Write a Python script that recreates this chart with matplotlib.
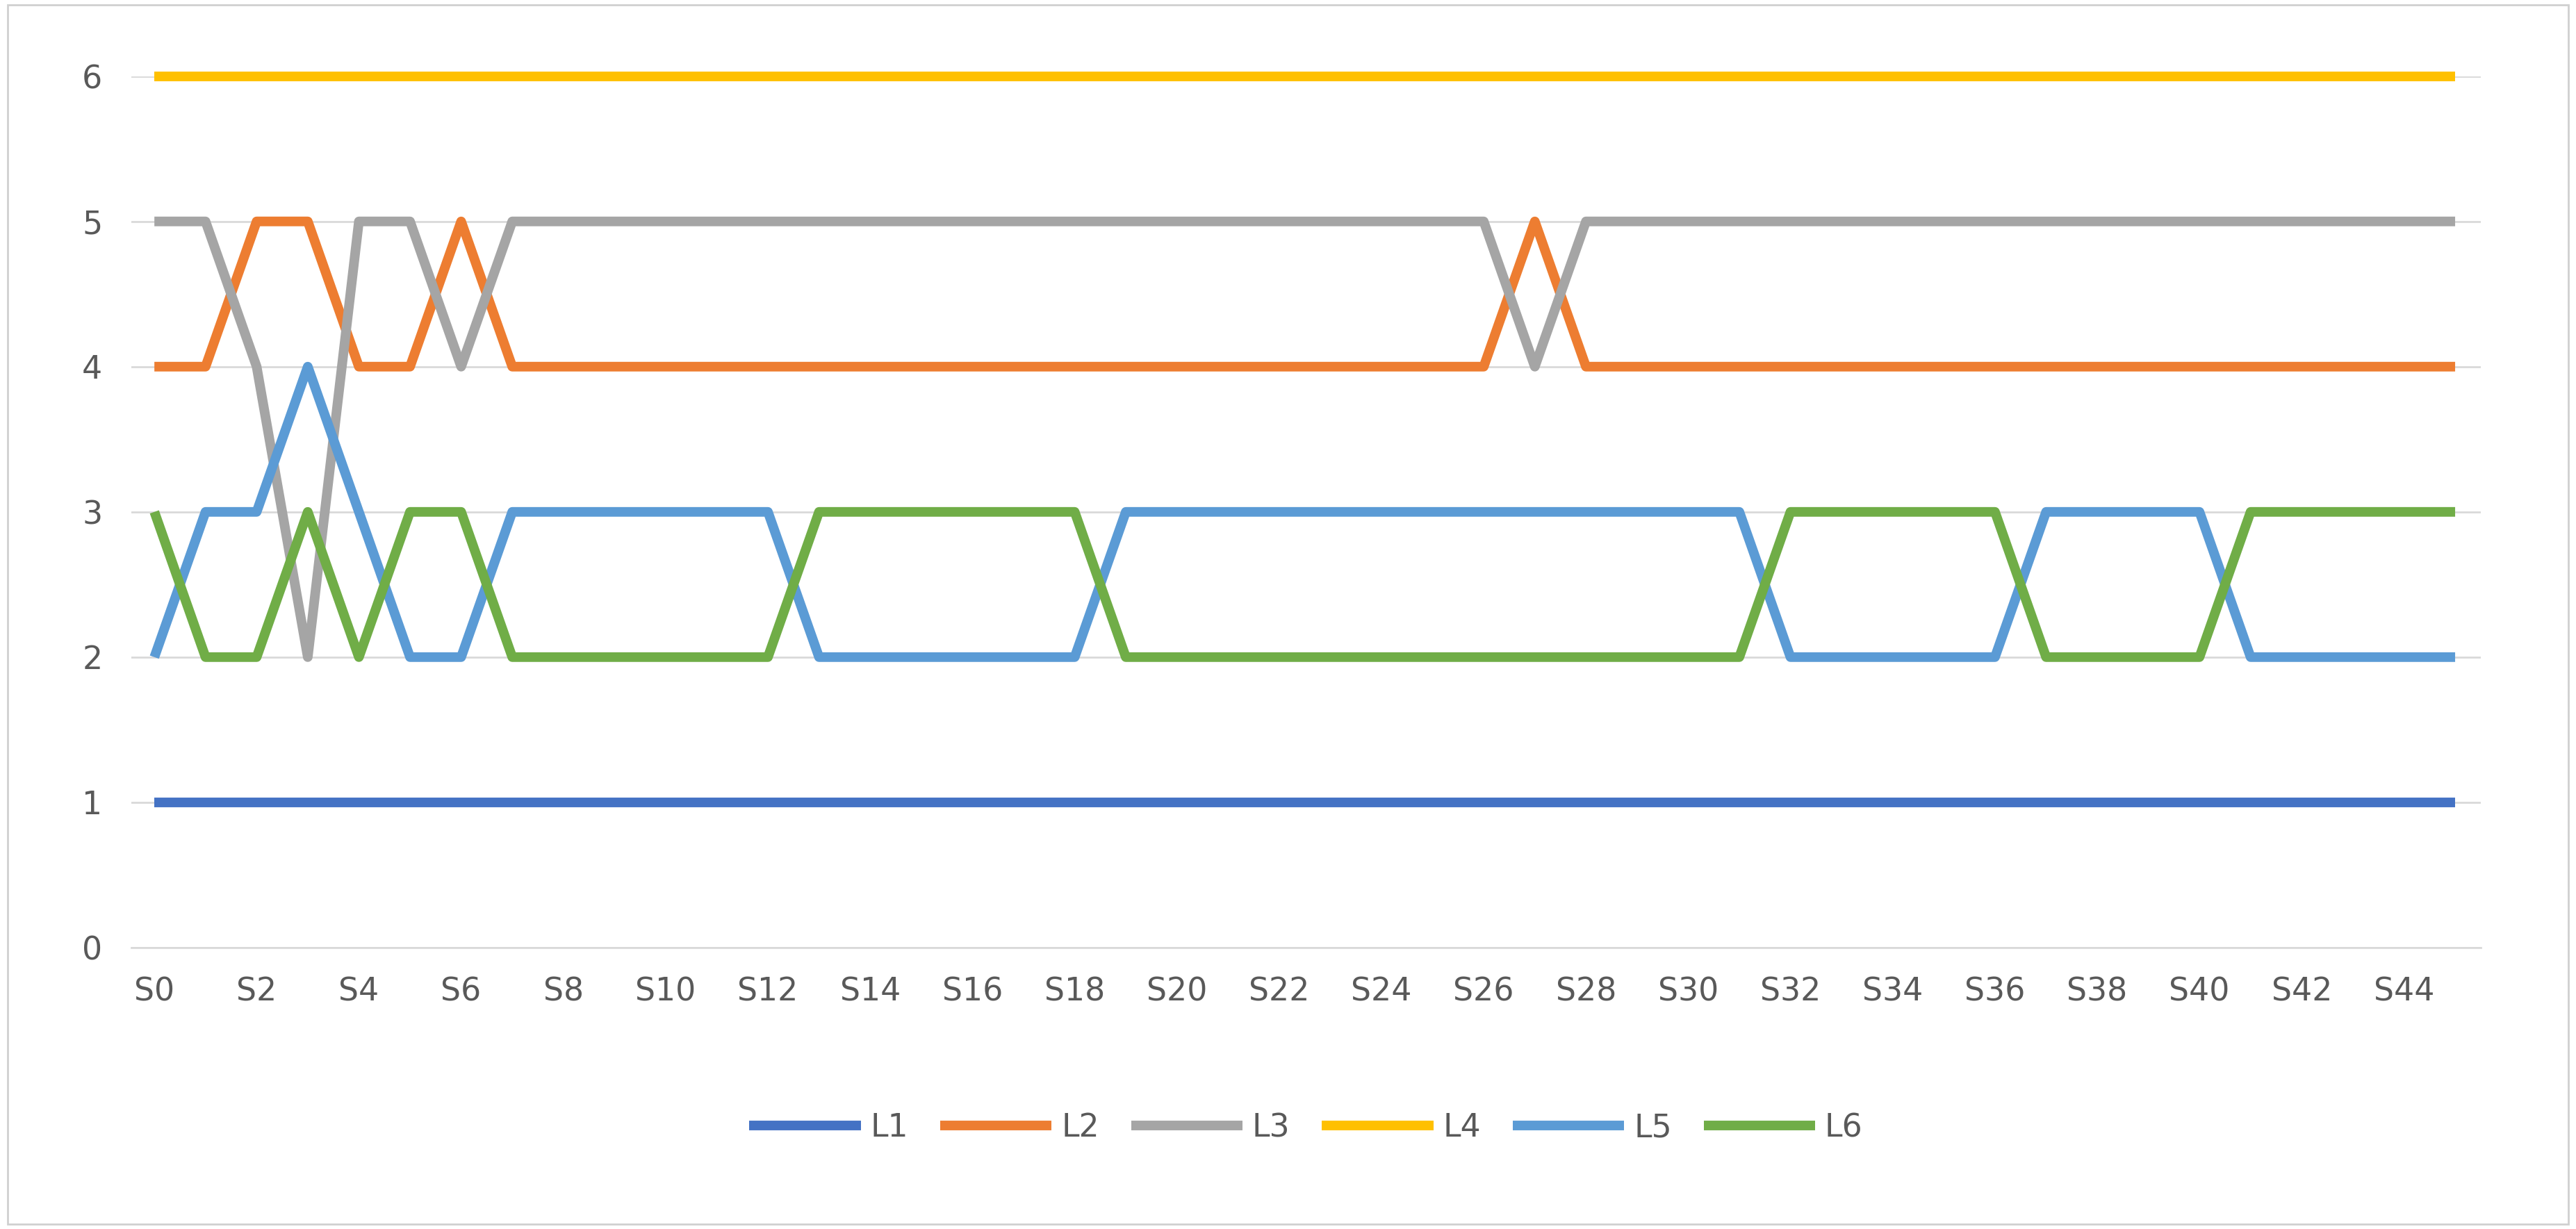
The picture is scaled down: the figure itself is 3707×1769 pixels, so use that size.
import matplotlib.pyplot as plt
from matplotlib.patches import Rectangle

labels = [f"S{i}" for i in range(46)]
L1 = [1] * 46
L4 = [6] * 46
L2 = [4, 4, 5, 5, 4, 4, 5, 4] + [4] * 19 + [5] + [4] * 18
L3 = [5, 5, 4, 2, 5, 5, 4, 5] + [5] * 19 + [4] + [5] * 18
L5 = [2, 3, 3, 4, 3, 2, 2] + [3] * 6 + [2] * 6 + [3] * 13 + [2] * 5 + [3] * 4 + [2] * 5
L6 = [3, 2, 2, 3, 2, 3, 3] + [2] * 6 + [3] * 6 + [2] * 13 + [3] * 5 + [2] * 4 + [3] * 5

series = [("L1", L1, "#4472C4"), ("L2", L2, "#ED7D31"), ("L3", L3, "#A5A5A5"),
          ("L4", L4, "#FFC000"), ("L5", L5, "#5B9BD5"), ("L6", L6, "#70AD47")]

fig = plt.figure(figsize=(37.07, 17.69), dpi=100)
fig.patches.append(Rectangle((0.003, 0.004), 0.994, 0.992, transform=fig.transFigure,
                             fill=False, edgecolor="#D0D0D0", linewidth=2))
ax = fig.add_axes([0.051, 0.229, 0.912, 0.709])
x = list(range(46))
for name, vals, c in series:
    ax.plot(x, vals, color=c, linewidth=10, label=name, clip_on=False,
            solid_joinstyle="round", solid_capstyle="butt")

ax.set_xlim(-0.45, 45.5)
ax.set_ylim(0, 6)
ax.set_yticks(range(7))
ax.set_xticks(x[::2])
ax.set_xticklabels(labels[::2])
ax.grid(axis="y", color="#D9D9D9", linewidth=2)
ax.set_axisbelow(True)
for s in ax.spines.values():
    s.set_visible(False)
ax.spines["bottom"].set_visible(True)
ax.spines["bottom"].set_color("#D9D9D9")
ax.spines["bottom"].set_linewidth(2)
ax.tick_params(length=0, labelsize=33, labelcolor="#595959", pad=30)

ax.legend(loc="center", bbox_to_anchor=(0.5, -0.207), ncol=6, frameon=False,
          fontsize=33, labelcolor="#595959", handlelength=3.5, columnspacing=1.0,
          handletextpad=0.3)
fig.savefig("out.png", dpi=100)
